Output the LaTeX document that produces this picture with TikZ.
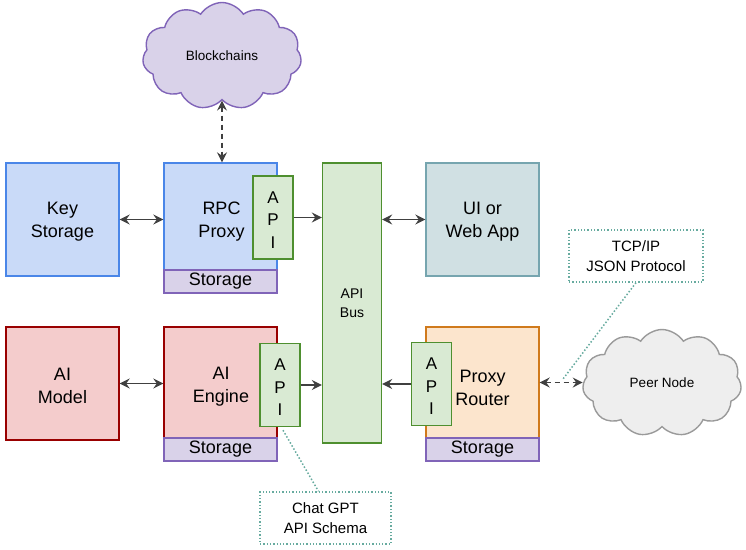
\documentclass[tikz,border=0pt]{standalone}
\usepackage{fontspec}
\setmainfont{Liberation Sans}
\usetikzlibrary{shapes.symbols,arrows.meta}
\definecolor{blueF}{HTML}{C9DAF8}
\definecolor{blueD}{HTML}{4A86E8}
\definecolor{purF}{HTML}{D9D2E9}
\definecolor{purD}{HTML}{8064B8}
\definecolor{grnF}{HTML}{D9EAD3}
\definecolor{grnD}{HTML}{4E8F2F}
\definecolor{tealF}{HTML}{D0E0E3}
\definecolor{tealD}{HTML}{76A5AF}
\definecolor{redF}{HTML}{F4CCCC}
\definecolor{redD}{HTML}{990000}
\definecolor{orF}{HTML}{FCE5CD}
\definecolor{orD}{HTML}{D07A1C}
\definecolor{grayF}{HTML}{EEEEEE}
\definecolor{grayD}{HTML}{9A9A9A}
\definecolor{arr}{HTML}{404040}
\definecolor{note}{HTML}{67AB9F}
\tikzset{
  box/.style={draw, line width=1.4pt, rectangle, inner sep=0pt},
  lbl/.style={align=center, inner sep=0pt, font=\fontsize{18}{23}\selectfont},
  stor/.style={box, fill=purF, draw=purD, minimum width=113, minimum height=23, font=\fontsize{18}{23}\selectfont},
  apibox/.style={box, fill=grnF, draw=grnD, minimum width=40, minimum height=83},
  apilbl/.style={lbl, font=\fontsize{17}{22.5}\selectfont},
  tipA/.tip={Stealth[length=10,width=10,inset=3.5]},
  conn/.style={draw=arr, line width=1.3pt, tipA-tipA},
  oneway/.style={draw=arr, line width=1.3pt, -tipA},
  dashconn/.style={conn, dash pattern=on 5pt off 4pt},
  notebox/.style={draw=note, line width=1.3pt, dotted, align=center, font=\fontsize{15}{20}\selectfont, minimum width=134, minimum height=52},
  noteline/.style={draw=note, line width=1.5pt, dotted},
  cloudn/.style={cloud, cloud puffs=11, cloud puff arc=115, cloud ignores aspect, line width=1.4pt, minimum width=159, minimum height=107, font=\fontsize{13.5}{16}\selectfont}
}
\begin{document}
\begin{tikzpicture}[x=1pt,y=-1pt]
\useasboundingbox (0,0) rectangle (746,549);
% clouds
\node[cloudn, fill=purF, draw=purD] (bc) at (222,56) {Blockchains};
\node[cloudn, fill=grayF, draw=grayD] (peer) at (662,383) {Peer Node};
% top row
\node[box, fill=blueF, draw=blueD, minimum width=113, minimum height=113] (key) at (62.5,219.5) {};
\node[lbl] (keyT) at (62.5,221.5) {Key\\Storage};
\node[box, fill=blueF, draw=blueD, minimum width=113, minimum height=107] (rpc) at (220.5,216.5) {};
\node[lbl] (rpcT) at (221.5,221.5) {RPC\\Proxy};
\node[stor] (rpcs) at (220.5,281.5) {Storage};
\node[apibox] (apiR) at (273,217.5) {};
\node[apilbl] (apiRT) at (273,220) {A\\P\\I};
\node[box, fill=grnF, draw=grnD, minimum width=59, minimum height=280] (bus) at (352,303) {};
\node[lbl, font=\fontsize{14}{19}\selectfont] (busT) at (352,303.5) {API\\Bus};
\node[box, fill=tealF, draw=tealD, minimum width=113, minimum height=113] (ui) at (482.5,219.5) {};
\node[lbl] (uiT) at (482.5,221.5) {UI or\\Web App};
% bottom row
\node[box, fill=redF, draw=redD, minimum width=113, minimum height=113] (aim) at (62.5,383.5) {};
\node[lbl] (aimT) at (62.5,386) {AI\\Model};
\node[box, fill=redF, draw=redD, minimum width=113, minimum height=111] (aie) at (220.5,382.5) {};
\node[lbl] (aieT) at (221,386.5) {AI\\Engine};
\node[stor] (aies) at (220.5,449.5) {Storage};
\node[apibox] (apiE) at (280,385) {};
\node[apilbl] (apiET) at (280,387.5) {A\\P\\I};
\node[box, fill=orF, draw=orD, minimum width=113, minimum height=111] (pr) at (482.5,382.5) {};
\node[lbl] (prT) at (482.5,387.5) {Proxy\\Router};
\node[stor] (prs) at (482.5,449.5) {Storage};
\node[apibox] (apiP) at (431.5,384) {};
\node[apilbl] (apiPT) at (431.5,386.5) {A\\P\\I};
% notes
\node[notebox] (tcp) at (636,256) {TCP/IP\\JSON Protocol};
\node[notebox, minimum width=131] (chat) at (325.5,518) {Chat GPT\\API Schema};
% connectors
\draw[dashconn] (bc.south) -- (bc.south |- rpc.north);
\draw[conn] (key.east) -- (key.east -| rpc.west);
\draw[oneway] (apiR.east) -- (apiR.east -| bus.west);
\draw[conn] (ui.west) -- (ui.west -| bus.east);
\draw[conn] (aim.east) -- (aim.east -| aie.west);
\draw[oneway] (apiE.east) -- (apiE.east -| bus.west);
\draw[oneway] (apiP.west) -- (apiP.west -| bus.east);
\draw[dashconn] (pr.east) -- (pr.east -| peer.west);
\coordinate (tcpEnd) at (563,379);
\draw[noteline] (tcp.south) -- (tcpEnd);
\draw[noteline] ([xshift=3pt,yshift=-3pt]apiE.south) -- ([xshift=-7pt]chat.north);
\end{tikzpicture}
\end{document}
